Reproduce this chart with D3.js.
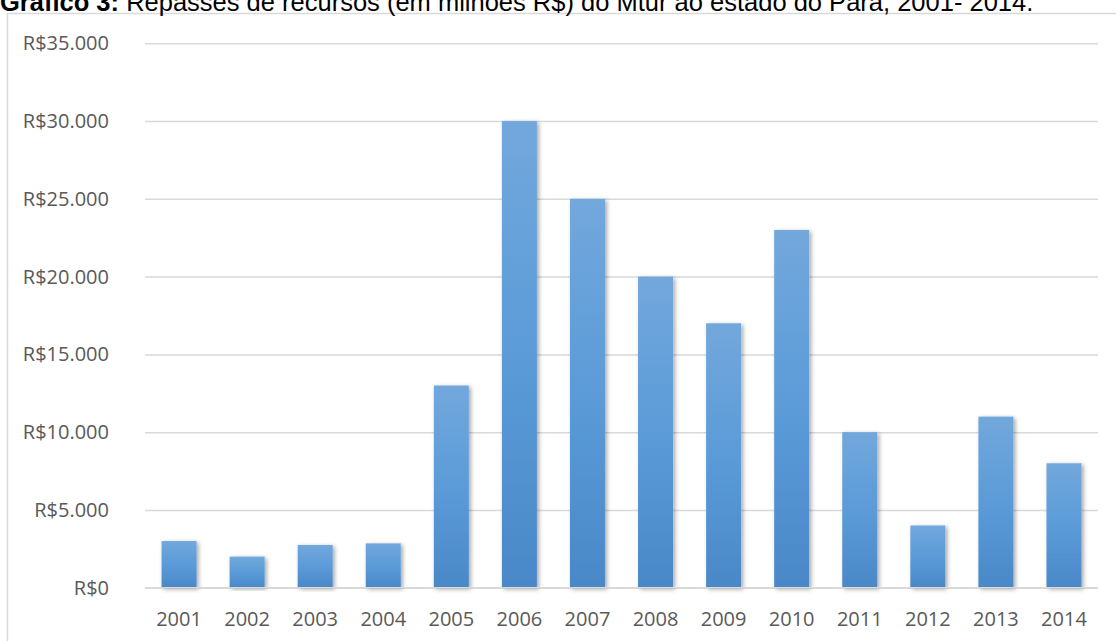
<!DOCTYPE html>
<html lang="pt-BR">
<head>
<meta charset="utf-8">
<script src="https://cdn.jsdelivr.net/npm/d3@7"></script>
<style>
  html, body { margin: 0; padding: 0; background: #fff; }
  svg { display: block; }
</style>
</head>
<body>
<svg id="chart" width="1116" height="641"></svg>
<script>
// Repasses anuais do Mtur ao Pará
const years = ["2001","2002","2003","2004","2005","2006","2007","2008","2009","2010","2011","2012","2013","2014"];
const amounts = [3000, 2000, 2750, 2850, 13000, 30000, 25000, 20000, 17000, 23000, 10000, 4000, 11000, 8000];
const yTicks = [0, 5000, 10000, 15000, 20000, 25000, 30000, 35000];
const titleBold = "Gráfico 3:";
const titleRest = " Repasses de recursos (em milhões R$) do Mtur ao estado do Pará, 2001- 2014.";

const svg = d3.select("#chart");
const W = 1116, H = 641;
const plot = { left: 145, right: 1098, top: 43.3, bottom: 587.7 };

const data = years.map((y, i) => ({ year: y, value: amounts[i] }));

const x = d3.scaleBand().domain(years).range([plot.left, plot.right]).paddingInner(0.486).paddingOuter(0.243);
const y = d3.scaleLinear().domain([0, 35000]).range([plot.bottom, plot.top]);

const fmt = v => "R$" + d3.format(",")(v).replace(/,/g, ".");

// defs: bar gradient and soft shadow
const defs = svg.append("defs");
const grad = defs.append("linearGradient").attr("id", "barFill").attr("x1", 0).attr("y1", 0).attr("x2", 0).attr("y2", 1);
grad.append("stop").attr("offset", "0%").attr("stop-color", "#72a8dc");
grad.append("stop").attr("offset", "50%").attr("stop-color", "#5b9bd8");
grad.append("stop").attr("offset", "100%").attr("stop-color", "#4a88c8");
const shadow = defs.append("filter").attr("id", "barShadow").attr("x", "-30%").attr("y", "-10%").attr("width", "160%").attr("height", "120%");
shadow.append("feDropShadow").attr("dx", 2).attr("dy", 1.5).attr("stdDeviation", 2.2)
  .attr("flood-color", "#000").attr("flood-opacity", 0.35);

// chart frame
svg.append("rect")
  .attr("x", 7.5).attr("y", 13.5).attr("width", W + 20).attr("height", H + 20)
  .attr("fill", "#fff").attr("stroke", "#d9d9d9").attr("stroke-width", 1.5);

// title
const title = svg.append("text")
  .attr("x", 0).attr("y", 11)
  .attr("font-family", "'Liberation Sans', Arial, sans-serif")
  .attr("font-size", 25.5).attr("fill", "#000");
title.append("tspan").attr("font-weight", "bold").text(titleBold);
title.append("tspan").text(titleRest);

// gridlines + y labels
const yAxis = d3.axisLeft(y).tickValues(yTicks).tickSize(-(plot.right - plot.left)).tickPadding(36).tickFormat(fmt);
const gy = svg.append("g").attr("transform", `translate(${plot.left},0)`).call(yAxis);
gy.select(".domain").remove();
gy.selectAll(".tick line").attr("stroke", "#d9d9d9").attr("stroke-width", 1.5);
gy.selectAll(".tick text")
  .attr("fill", "#595959")
  .attr("font-family", "'Open Sans', sans-serif")
  .attr("font-size", 20);

// bars
svg.append("g").selectAll("rect").data(data).join("rect")
  .attr("x", d => x(d.year))
  .attr("y", d => y(d.value))
  .attr("width", x.bandwidth())
  .attr("height", d => y(0) - y(d.value))
  .attr("fill", "url(#barFill)")
  .attr("filter", "url(#barShadow)");

// baseline over bars
svg.append("line")
  .attr("x1", plot.left).attr("x2", plot.right)
  .attr("y1", y(0)).attr("y2", y(0))
  .attr("stroke", "#d9d9d9").attr("stroke-width", 1.5);

// x labels
const xAxis = d3.axisBottom(x).tickSize(0).tickPadding(24.5);
const gx = svg.append("g").attr("transform", `translate(0,${plot.bottom})`).call(xAxis);
gx.select(".domain").remove();
gx.selectAll(".tick text")
  .attr("fill", "#595959")
  .attr("font-family", "'Open Sans', sans-serif")
  .attr("font-size", 20);
</script>
</body>
</html>
